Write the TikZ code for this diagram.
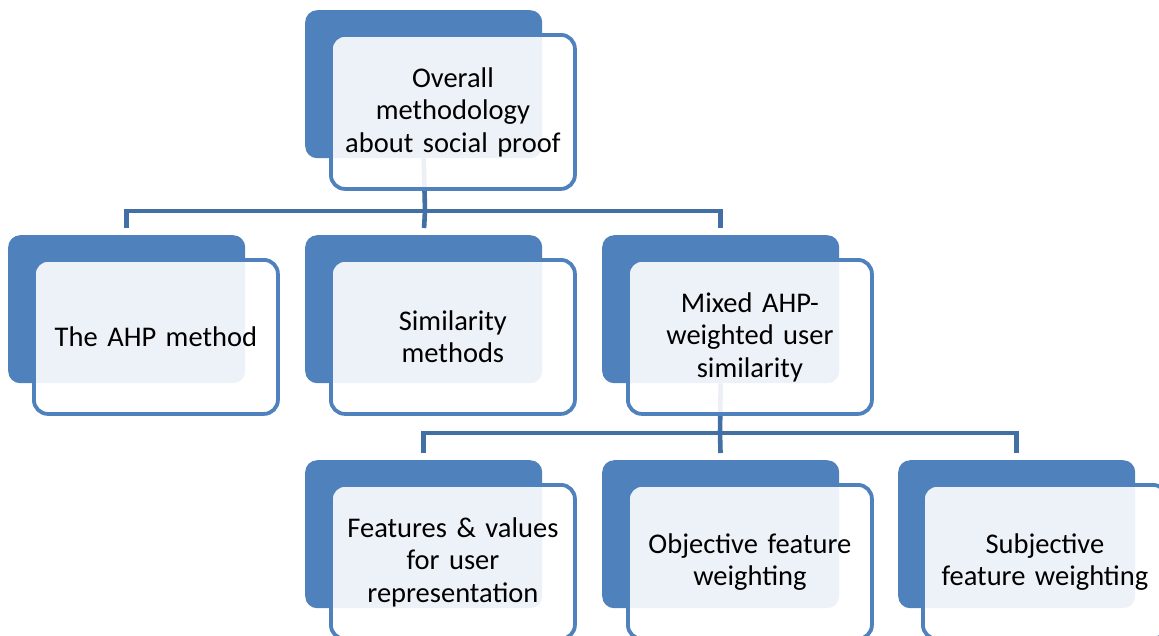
\documentclass[tikz,border=0pt]{standalone}
\usepackage{fontspec}
\setmainfont{Carlito}
\definecolor{accent}{RGB}{79,129,189}
\definecolor{linkcol}{RGB}{66,111,164}
\tikzset{
  backbox/.style={draw=none, fill=accent, rounded corners=12pt,
    minimum width=237pt, minimum height=148pt, inner sep=0pt, anchor=north west},
  frontbox/.style={draw=accent, line width=3.8pt, fill=white, fill opacity=0.9,
    text opacity=1, rounded corners=14pt, minimum width=244pt, minimum height=154pt,
    inner sep=0pt, anchor=north west, text width=236pt, align=center,
    font=\fontsize{28.5}{32.5}\selectfont},
  link/.style={draw=linkcol, line width=4.6pt},
  drop/.style={link, shorten >=7pt}
}
\begin{document}
\begin{tikzpicture}[x=1pt, y=-1pt]
\clip (0,0) rectangle (1159,635);
\fill[white] (0,0) rectangle (1159,635);

% back plates
\node[backbox] (ovB)   at (305,10)  {};
\node[backbox] (ahpB)  at (8,235)   {};
\node[backbox] (simB)  at (305,235) {};
\node[backbox] (mixB)  at (602,235) {};
\node[backbox] (featB) at (305,460) {};
\node[backbox] (objB)  at (602,460) {};
\node[backbox] (subB)  at (898,460) {};

% connectors (behind the front cards)
\coordinate (bus1) at (425,211);
\coordinate (bus2) at (720,433);
\draw[link] (ovB.south) -- (bus1);
\draw[drop] (bus1) -| (ahpB.north);
\draw[drop] (bus1) -- (simB.north);
\draw[drop] (bus1) -| (mixB.north);
\draw[link] (mixB.south) -- (bus2);
\draw[drop] (bus2) -| (featB.north);
\draw[drop] (bus2) -- (objB.north);
\draw[drop] (bus2) -| (subB.north);

% front cards with labels
\node[frontbox] (ov)   at (329,33)  {Overall\\methodology\\about social proof};
\node[frontbox] (ahp)  at (32,258)  {The AHP method};
\node[frontbox] (sim)  at (329,258) {Similarity\\methods};
\node[frontbox] (mix)  at (626,258) {Mixed AHP-\\weighted user\\similarity};
\node[frontbox] (feat) at (329,483) {Features \& values\\for user\\representation};
\node[frontbox] (obj)  at (626,483) {Objective feature\\weighting};
\node[frontbox] (sub)  at (921,483) {Subjective\\feature weighting};
\end{tikzpicture}
\end{document}
